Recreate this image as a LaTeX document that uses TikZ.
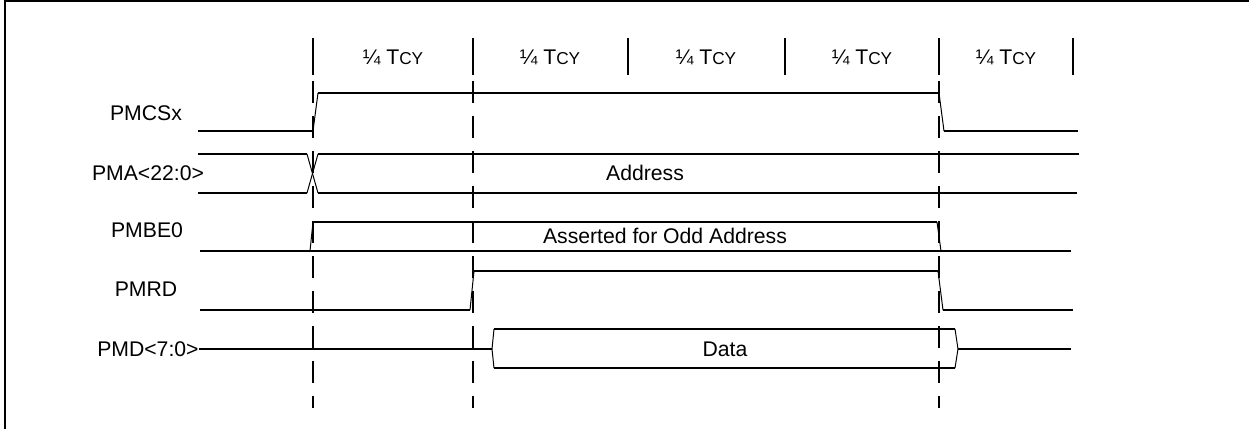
\documentclass[tikz,border=0pt]{standalone}
\usepackage{fontspec}
\setmainfont{Liberation Sans}
\usetikzlibrary{positioning}

\newcommand{\quartertcy}{¼ T{\fontsize{8.6}{9}\selectfont CY}}

\begin{document}
\begin{tikzpicture}[x=0.5pt,y=-0.5pt,
    font=\fontsize{10.6}{12}\selectfont,
    sig/.style={line width=1pt},
    slope/.style={line width=0.5pt},
    guide/.style={line width=1pt, dash pattern=on 11pt off 6.5pt},
    lbl/.style={inner sep=0pt}]

\useasboundingbox (0,0) rectangle (1249,429);

% Frame
\draw[line width=1pt] (5,429) -- (5,1) -- (1249,1);

% Quarter cycles
\foreach \x in {313,473,628,785,939,1073}
    \draw[sig] (\x,38) -- (\x,75);
\foreach \x/\n in {393/qa,550/qb,706/qc,862/qd,1006/qe}
    \node[lbl] (\n) at (\x,57) {\quartertcy};

% Guides
\foreach \x in {313,473,939}
    \draw[guide] (\x,81) -- (\x,408);

% Signal names
\node[lbl] (pmcsx) at (146,113) {PMCSx};
\node[lbl] (pma) at (148,173) {PMA<22:0>};
\node[lbl] (pmbe) at (147,230) {PMBE0};
\node[lbl] (pmrd) at (146,289) {PMRD};
\node[lbl, anchor=east] (pmd) at (199,349) {PMD<7:0>};

% PMCSx
\draw[sig] (198,131) -- (313,131);
\draw[slope] (313,131) -- (318,93);
\draw[sig] (318,93) -- (939,93);
\draw[slope] (939,93) -- (944,131);
\draw[sig] (944,131) -- (1078,131);

% PMA<22:0>
\draw[sig] (198,154) -- (307,154);
\draw[sig] (198,193) -- (307,193);
\draw[slope] (307,154) -- (318,193);
\draw[slope] (307,193) -- (318,154);
\draw[sig] (318,154) -- (1079,154);
\draw[sig] (318,193) -- (1077,193);
\node[lbl] (addr) at (645,173) {Address};

% PMBE0
\draw[sig] (200,251) -- (1071,251);
\draw[slope] (310,251) -- (313,222);
\draw[sig] (313,222) -- (937,222);
\draw[slope] (937,222) -- (941,251);
\node[lbl] (odd) at (665,236) {Asserted for Odd Address};

% PMRD
\draw[sig] (200,310) -- (470,310);
\draw[slope] (470,310) -- (474,271);
\draw[sig] (474,271) -- (938,271);
\draw[slope] (938,271) -- (943,310);
\draw[sig] (943,310) -- (1073,310);

% PMD<7:0>
\draw[sig] (pmd.east) -- (492,349);
\draw[slope] (494,329) -- (492,349) -- (494,368);
\draw[sig] (494,329) -- (955,329);
\draw[sig] (494,368) -- (955,368);
\draw[slope] (955,329) -- (958,349) -- (955,368);
\draw[sig] (958,349) -- (1071,349);
\node[lbl] (data) at (725,349) {Data};

\end{tikzpicture}
\end{document}
